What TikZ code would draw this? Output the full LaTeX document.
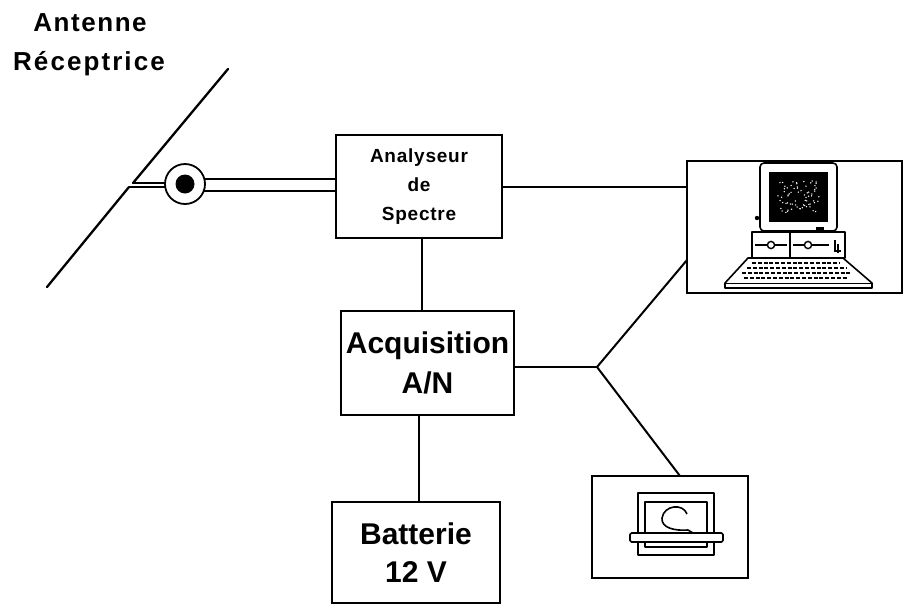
\documentclass[tikz,border=0pt]{standalone}
\usepackage{fontspec}
\setmainfont{Liberation Sans}
\usetikzlibrary{calc}
\begin{document}
\begin{tikzpicture}[x=1pt,y=-1pt,
  blk/.style={draw, line width=2.2pt, inner sep=0pt, align=center},
  wire/.style={line width=2pt},
  feed/.style={line width=1.3pt},
  rod/.style={line width=2.3pt, line cap=round},
  sketch/.style={line width=1.6pt, line join=round}]
\useasboundingbox (0,0) rectangle (904,606);

% title of the aerial
\node[anchor=base, font=\bfseries\fontsize{26}{30}\selectfont\addfontfeature{LetterSpace=6}] (t1) at (90,31) {Antenne};
\node[anchor=base, font=\bfseries\fontsize{26}{30}\selectfont\addfontfeature{LetterSpace=8}] (t2) at (89,70) {Réceptrice};

% blocks
\node[blk, minimum width=166pt, minimum height=103pt,
  font=\bfseries\fontsize{19}{29}\selectfont\addfontfeature{LetterSpace=4}] (ana) at (419,186.5)
  {Analyseur\\de\\Spectre};
\node[blk, minimum width=173pt, minimum height=104pt,
  font=\bfseries\fontsize{30}{40}\selectfont] (acq) at (427.5,363)
  {Acquisition\\A/N};
\node[blk, minimum width=168pt, minimum height=101pt,
  font=\bfseries\fontsize{30}{38}\selectfont] (bat) at (416,552.5)
  {Batterie\\12 V};
\node[blk, minimum width=215pt, minimum height=132pt] (pc) at (794.5,227) {};
\node[blk, minimum width=156pt, minimum height=102pt] (osc) at (670,527) {};

% aerial with its coaxial feed
\coordinate (antT) at (228,69);
\coordinate (antK1) at (133,183);
\coordinate (antK2) at (129,187);
\coordinate (antB) at (47,287);
\draw[rod] (antT) -- (antK1);
\draw[rod] (antK2) -- (antB);
\coordinate (cc) at (185,184);
\draw[feed] (antK1) -- (antK1 -| cc);
\draw[feed] (antK2) -- (antK2 -| cc);
\coordinate (c1) at ($(cc)+(0,-5)$);
\coordinate (c2) at ($(cc)+(0,6.5)$);
\draw[wire] (c1) -- (c1 -| ana.west);
\draw[wire] (c2) -- (c2 -| ana.west);
\node[circle, draw, fill=white, minimum size=40pt, line width=1.8pt, inner sep=0pt] (conn) at (cc) {};
\fill (conn.center) circle (9.5);

% connections between blocks
\coordinate (x1) at (422,0);
\coordinate (x2) at (419,0);
\draw[wire] (ana.east) -- (ana.east -| pc.west);
\draw[wire] (ana.south -| x1) -- (acq.north -| x1);
\draw[wire] (acq.south -| x2) -- (bat.north -| x2);
\coordinate (jn) at (597,367);
\coordinate (pcin) at (687,260);
\coordinate (oscin) at (680,476);
\draw[wire] (acq.east |- jn) -- (jn);
\draw[wire, line join=round] (pcin) -- (jn) -- (oscin);

% desktop computer
\draw[sketch, rounded corners=4pt] (760,163) rectangle (837,231);
\fill (769,172) rectangle (828,222);
\pgfmathsetseed{5}
\foreach \i in {1,...,70}{
  \pgfmathsetmacro\dx{21*rand}
  \pgfmathsetmacro\dy{16*rand}
  \fill[white] (798.5+\dx,197+\dy) circle (0.75);
}
\fill (757,218) circle (2.2);
\fill (816,227) rectangle (824,233);
\draw[sketch] (752,232) rectangle (845,258);
\draw[sketch] (790,232) -- (790,258);
\draw[line width=2pt] (755,245) -- (787,245);
\draw[line width=2pt] (793,245) -- (829,245);
\draw[line width=1.4pt, fill=white] (771,245) circle (3.6);
\draw[line width=1.4pt, fill=white] (808,245) circle (3.6);
\draw[line width=1.4pt] (835,240) -- (835,251) -- (841,251) (838,244) -- (838,253);
\draw[sketch] (748,258) -- (843,258) -- (872,283) -- (872,288) -- (725,288) -- (725,283) -- cycle;
\draw[line width=0.9pt] (725,283) -- (872,283);
\foreach \y/\a/\b in {263/752/840, 268/747/846, 273/742/852, 278/744/848}
  \draw[line width=2.6pt, dash pattern=on 4pt off 1.8pt] (\a,\y) -- (\b,\y);

% oscilloscope screen
\draw[sketch] (638,493) rectangle (714,555);
\draw[sketch] (645,502) rectangle (707,547);
\draw[sketch] (687,514) .. controls (683,503) and (664,505) .. (662,518)
  .. controls (661,528) and (675,531) .. (688,530) -- (693,533);
\draw[sketch, fill=white, rounded corners=1.5pt] (630,533) rectangle (723,542);
\end{tikzpicture}
\end{document}
